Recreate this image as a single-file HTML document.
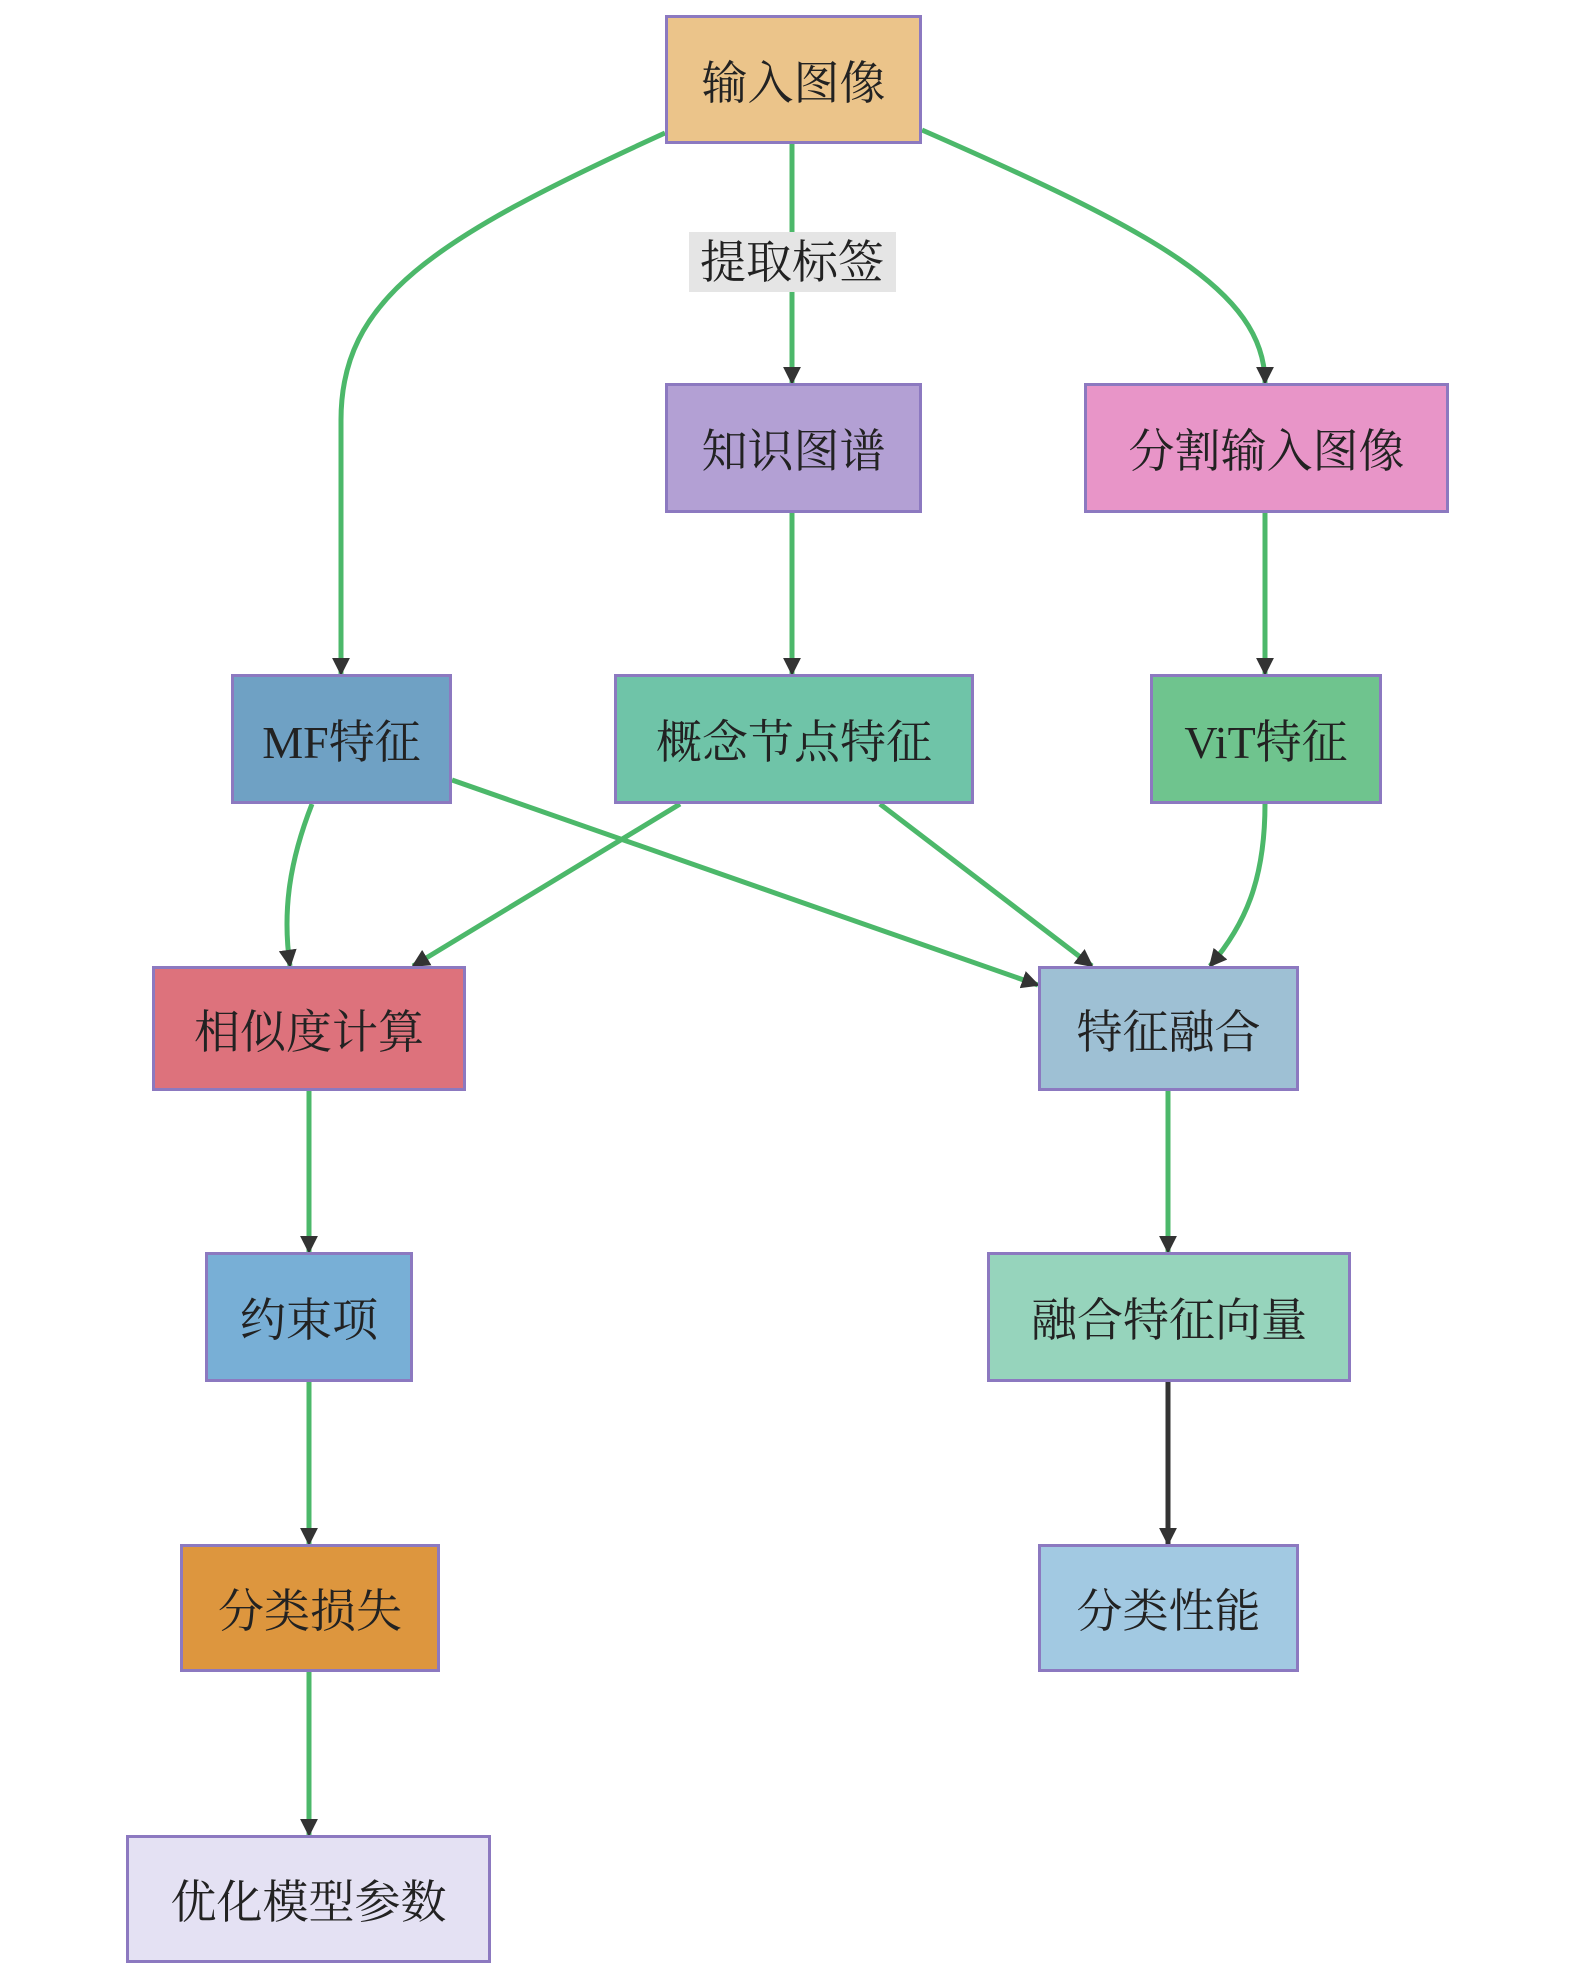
<!DOCTYPE html>
<html><head><meta charset="utf-8"><style>
body{margin:0;background:#fff;}
.c{position:relative;width:1575px;height:1976px;overflow:hidden;}
.b{position:absolute;box-sizing:border-box;border:3px solid #8c79c0;display:flex;align-items:center;justify-content:center;font-family:"Liberation Serif","Noto Serif CJK SC",serif;font-size:46px;color:#222;}
svg{position:absolute;left:0;top:0;}
</style></head><body><div class="c">
<svg width="1575" height="1976">
<defs><marker id="a" markerWidth="8" markerHeight="8" refX="6" refY="4" orient="auto" markerUnits="userSpaceOnUse" viewBox="0 0 8 8"><path d="M0,0 L8,4 L0,8z" fill="#333"/></marker>
<marker id="m" viewBox="0 0 10 10" refX="9" refY="5" markerWidth="18" markerHeight="18" orient="auto" markerUnits="userSpaceOnUse"><path d="M0,0 L10,5 L0,10z" fill="#333"/></marker></defs>
<g fill="none" stroke="#4cb86a" stroke-width="5" marker-end="url(#m)">
<path d="M665,133 C430,240 341,300 341,420 L341,674"/>
<path d="M792,144 V383"/>
<path d="M922,130 C1150,230 1265,290 1265,383"/>
<path d="M792,513 V674"/>
<path d="M1265,513 V674"/>
<path d="M312,804 C290,860 282,910 290,966"/>
<path d="M680,804 L413,966"/>
<path d="M452,780 L1038,985"/>
<path d="M880,804 L1092,966"/>
<path d="M1265,804 C1265,880 1245,925 1210,966"/>
<path d="M309,1091 V1252"/>
<path d="M1168,1091 V1252"/>
<path d="M309,1382 V1544"/>
<path d="M309,1672 V1835"/>
<path d="M1168,1382 V1544" stroke="#333"/>
</g>
<rect x="689" y="232" width="207" height="60" fill="#e5e5e5"/>
<text x="792" y="278" text-anchor="middle" font-family="Liberation Serif, Noto Serif CJK SC, serif" font-size="46" fill="#222">提取标签</text>
</svg>
<div class="b" style="left:665px;top:15px;width:257px;height:129px;background:#ebc48a">输入图像</div>
<div class="b" style="left:665px;top:383px;width:257px;height:130px;background:#b3a0d4">知识图谱</div>
<div class="b" style="left:1084px;top:383px;width:365px;height:130px;background:#e895c8">分割输入图像</div>
<div class="b" style="left:231px;top:674px;width:221px;height:130px;background:#6fa1c4">MF特征</div>
<div class="b" style="left:614px;top:674px;width:360px;height:130px;background:#6fc4a8">概念节点特征</div>
<div class="b" style="left:1150px;top:674px;width:232px;height:130px;background:#6fc48e">ViT特征</div>
<div class="b" style="left:152px;top:966px;width:314px;height:125px;background:#dd727c">相似度计算</div>
<div class="b" style="left:1038px;top:966px;width:261px;height:125px;background:#9ec0d4">特征融合</div>
<div class="b" style="left:205px;top:1252px;width:208px;height:130px;background:#78afd6">约束项</div>
<div class="b" style="left:987px;top:1252px;width:364px;height:130px;background:#96d4bc">融合特征向量</div>
<div class="b" style="left:180px;top:1544px;width:260px;height:128px;background:#dd963e">分类损失</div>
<div class="b" style="left:1038px;top:1544px;width:261px;height:128px;background:#a2c9e2">分类性能</div>
<div class="b" style="left:126px;top:1835px;width:365px;height:128px;background:#e4e1f3">优化模型参数</div>
</div></body></html>
